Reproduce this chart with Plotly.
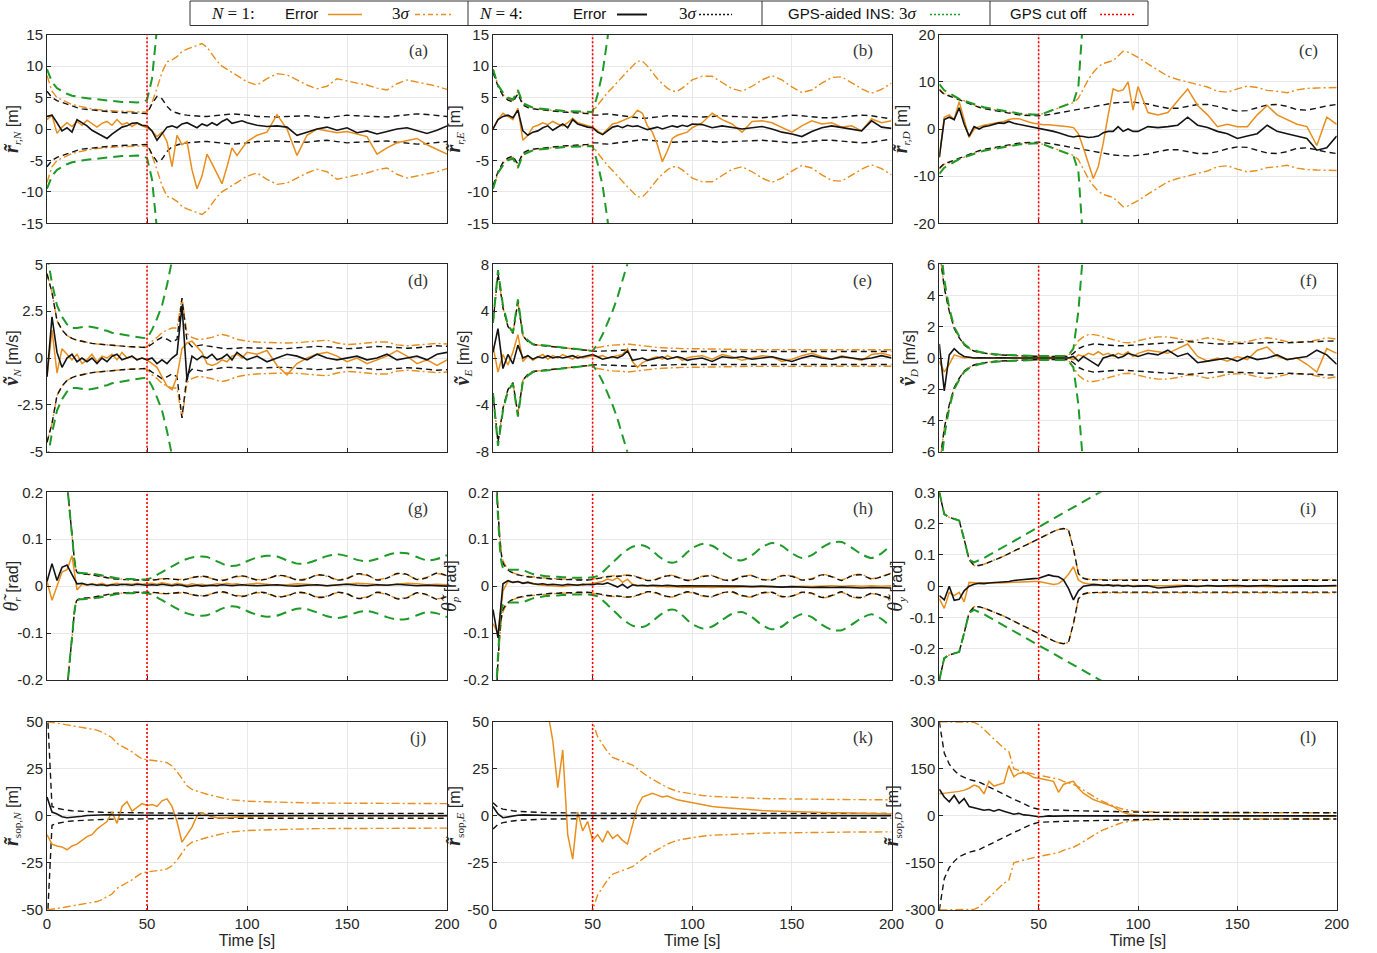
import plotly.graph_objects as go

# ---------------- time grid (s) ----------------
T = [0, 2.5, 5, 7.5, 10, 12.5, 15, 17.5, 20,
     22.5, 25, 27.5, 30, 32.5, 35, 37.5, 40,
     42.5, 45, 47.5, 50, 52.5, 55, 57.5, 60,
     62.5, 65, 67.5, 70, 72.5, 75, 77.5, 80,
     82.5, 85, 87.5, 90, 92.5, 95, 97.5, 100,
     105, 110, 115, 120, 125, 130, 135, 140, 145, 150,
     155, 160, 165, 170, 175, 180, 185, 190, 195, 200]
T_CUT = 50
X_TICKS = [0, 50, 100, 150, 200]

# ---------------- (a) r_N ----------------
A_ERR1 = [1.5, 2.2, -0.7, 0.3, 1.0, 0.4, 1.2, 0.6, 1.4,
          0.8, 0.3, 0.9, 1.2, 0.6, 1.5, 0.7, 1.0,
          0.4, 0.9, 0.5, 0.2, -0.3, -1.2, -0.5, -2.0,
          -6.0, -1.0, -2.5, -2.0, -6.5, -9.5, -7.5, -4.0,
          -5.5, -7.0, -8.7, -6.0, -3.0, -4.2, -3.0, -2.0,
          -1.0, -0.5, 2.3, 0.0, -4.2, -1.0, 0.0, -0.3, -0.6, -0.4,
          -0.8, -1.2, -4.0, -3.0, -2.2, -1.8, -1.5, -2.5, -3.2, -4.0]
A_ERR4 = [2.0, 2.2, 1.0, -0.3, 0.2, -0.5, 1.5, 1.0, 0.5,
          -0.2, -0.6, -1.0, -1.5, -0.8, -0.3, 0.3, 0.5,
          0.9, 1.0, 0.6, 0.5, -0.3, -1.8, -0.8, 0.3,
          0.5, 0.2, 0.8, 1.0, 0.6, 0.2, 0.8, 0.5,
          1.0, 0.6, 1.2, 1.6, 0.9, 1.1, 1.3, 1.0,
          0.6, 0.4, 0.5, 0.3, -1.0, -0.5, 0.0, 0.3, -0.2, 0.2,
          -0.6, -0.3, -0.8, -0.4, 0.0, 0.2, -0.3, -0.7, -0.2, 0.5]
A_SIG1 = [8.5, 6.0, 5.0, 4.6, 4.2, 3.9, 3.7, 3.5, 3.3,
          3.2, 3.1, 3.0, 2.95, 2.9, 2.85, 2.8, 2.75,
          2.75, 2.7, 2.7, 2.7, 4.2, 6.5, 9.0, 10.7,
          11.0, 11.5, 12.3, 12.7, 13.0, 13.3, 13.6, 13.0,
          11.8, 10.8, 10.0, 9.5, 9.0, 8.5, 8.0, 7.5,
          7.0, 8.0, 8.8, 8.6, 7.8, 7.0, 6.4, 6.8, 8.0, 7.6,
          7.3, 7.0, 6.5, 6.2, 7.2, 7.8, 7.5, 7.2, 6.8, 6.3]
A_SIG4 = [6.0, 5.0, 4.5, 4.2, 3.9, 3.6, 3.4, 3.2, 3.1,
          3.0, 2.9, 2.8, 2.75, 2.7, 2.65, 2.6, 2.55,
          2.5, 2.5, 2.45, 2.45, 4.0, 5.2, 4.8, 3.6,
          2.8, 2.5, 2.3, 2.2, 2.1, 2.0, 2.0, 2.0,
          2.1, 2.2, 2.3, 2.4, 2.4, 2.35, 2.3, 2.2,
          2.0, 1.9, 1.9, 2.0, 2.1, 2.1, 1.9, 1.8, 2.0, 2.2,
          2.1, 2.0, 1.9, 1.9, 2.1, 2.3, 2.4, 2.3, 2.1, 2.0]
A_GPS = [9.5, 7.5, 6.5, 6.0, 5.6, 5.3, 5.1, 5.0, 4.9,
         4.8, 4.8, 4.7, 4.6, 4.5, 4.4, 4.3, 4.3,
         4.2, 4.2, 4.3, 4.6, 8.0, 14.0, 22.0, 32.0] + [None] * 36

# ---------------- (b) r_E ----------------
B_ERR1 = [0.0, 1.5, 2.5, 2.0, 1.5, 3.3, -1.8, -1.0, 0.3,
          0.6, 1.0, 0.7, 1.2, 0.8, 0.5, 1.0, 1.7,
          1.0, 0.8, 0.5, 0.3, -0.3, -0.8, 0.0, 0.8,
          1.0, 1.3, 1.6, 2.0, 3.0, 2.5, 0.5, -0.5,
          -2.5, -5.2, -3.5, -1.5, -1.0, -0.7, -0.5, 0.2,
          1.0, 2.5, 1.5, 0.8, -0.5, 1.2, 1.3, 1.0, 0.3, -0.5,
          0.5, 1.3, 0.8, 1.0, 0.3, 0.5, -0.3, 1.6, 1.0, 1.3]
B_ERR4 = [0.0, 1.5, 2.0, 2.2, 1.8, 3.0, -0.3, -1.0, -0.5,
          -0.3, 0.2, 0.5, -0.2, 0.3, 0.8, 0.2, 1.5,
          0.8, 0.5, 0.3, 0.2, -0.5, -0.9, -0.3, 0.3,
          0.5, 0.2, 0.6, 0.4, 0.5, 0.2, -0.1, 0.1,
          0.3, 0.0, 0.2, 0.5, 0.3, 0.6, 0.4, 0.8,
          0.7, 0.2, 0.5, 0.3, 0.0, 0.2, 0.4, 0.0, -0.5, -0.8,
          -1.2, -0.4, 0.2, 0.5, 0.2, 0.0, -0.3, 1.3, 0.3, 0.1]
B_SIG1 = [9.5, 7.0, 5.5, 4.8, 4.5, 6.0, 4.0, 3.6, 3.3,
          3.2, 3.1, 3.0, 2.9, 2.85, 2.8, 2.75, 2.7,
          2.7, 2.65, 2.6, 2.6, 3.8, 4.8, 5.8, 6.6,
          7.5, 8.3, 9.2, 10.0, 10.8, 10.8, 10.0, 9.0,
          8.0, 7.2, 6.5, 6.0, 6.0, 6.5, 7.2, 7.8,
          8.4, 8.4, 7.4, 6.4, 6.0, 6.8, 7.8, 8.5, 7.8, 6.7,
          5.8, 6.2, 7.3, 8.2, 8.3, 7.4, 6.4, 5.7, 6.3, 7.3]
B_SIG4 = [9.0, 6.8, 5.3, 4.6, 4.3, 5.6, 3.8, 3.4, 3.2,
          3.1, 3.0, 2.9, 2.8, 2.75, 2.7, 2.65, 2.6,
          2.55, 2.5, 2.45, 2.2, 2.2, 2.35, 2.4, 2.3,
          2.2, 2.0, 1.9, 1.8, 1.75, 1.7, 1.75, 1.85,
          1.95, 2.05, 2.1, 2.1, 2.05, 2.0, 1.95, 1.9,
          1.9, 2.0, 2.1, 2.0, 1.9, 1.8, 1.8, 1.9, 2.1, 2.2,
          2.1, 1.9, 1.8, 1.8, 1.9, 2.0, 2.2, 2.1, 1.8, 1.6]
B_GPS = [9.5, 7.0, 5.8, 5.0, 4.7, 6.2, 4.1, 3.7, 3.4,
         3.3, 3.2, 3.1, 3.0, 2.95, 2.9, 2.85, 2.8,
         2.8, 2.75, 2.7, 2.7, 5.5, 9.0, 14.5, 22.0] + [None] * 36

# ---------------- (c) r_D ----------------
C_ERR1 = [-6.0, 2.5, 3.0, 2.0, 5.8, 2.0, -1.8, 0.0, 0.5,
          0.8, 1.0, 1.2, 1.3, 1.6, 2.0, 2.2, 2.2,
          1.8, 1.5, 1.2, 1.0, 0.9, 0.9, 0.8, 0.8,
          0.6, 0.5, 0.3, -1.0, -4.0, -7.5, -10.5, -8.0,
          -3.0, 3.0, 8.5, 8.0, 8.3, 10.0, 4.0, 9.0,
          3.5, 3.0, 3.5, 6.0, 8.5, 5.0, 3.0, 0.5, 1.0, 0.5,
          0.5, 3.0, 5.0, 3.0, 2.0, 1.0, 0.5, -3.5, 2.5, 1.0]
C_ERR4 = [-6.0, 2.0, 2.5, 2.0, 4.5, 1.0, -1.5, 0.5, 0.0,
          0.5, 0.7, 1.0, 1.3, 1.2, 1.6, 1.2, 1.0,
          0.8, 0.5, 0.3, 0.2, 0.0, -0.2, -0.5, -0.8,
          -1.2, -1.5, -1.7, -1.5, -1.6, -1.8, -1.7, -1.5,
          -0.8, -0.5, -0.5, 0.5, -0.5, 0.0, -0.5, -0.5,
          0.5, 0.3, 0.5, 0.8, 2.5, 0.8, 0.3, -0.5, -1.0, -2.0,
          -1.5, -1.0, 0.8, -0.5, -1.0, -1.5, -2.0, -4.5, -4.0, -1.5]
C_SIG1 = [8.5, 7.5, 7.2, 6.8, 6.3, 5.9, 5.5, 5.1, 4.8,
          4.5, 4.3, 4.1, 3.9, 3.7, 3.5, 3.35, 3.2,
          3.1, 3.05, 3.0, 3.0, 3.3, 3.7, 4.1, 4.5,
          4.9, 5.3, 5.6, 6.5, 8.5, 10.5, 12.0, 13.2,
          13.9, 14.2, 14.5, 15.5, 16.5, 16.3, 15.8, 15.2,
          13.8, 12.5, 11.2, 10.5, 10.0, 9.5, 8.9, 8.0, 7.8, 8.5,
          9.1, 8.8, 8.2, 8.0, 7.7, 8.3, 8.6, 8.7, 8.8, 8.8]
C_SIG4 = [8.3, 7.3, 7.0, 6.6, 6.1, 5.7, 5.3, 4.9, 4.6,
          4.3, 4.1, 3.9, 3.7, 3.5, 3.3, 3.15, 3.0,
          2.9, 2.85, 2.8, 2.8, 2.9, 3.0, 3.2, 3.4,
          3.6, 3.8, 4.0, 4.2, 4.4, 4.6, 4.8, 5.0,
          5.2, 5.4, 5.5, 5.6, 5.7, 5.7, 5.7, 5.6,
          5.3, 4.8, 4.4, 4.4, 4.8, 5.2, 5.2, 4.8, 4.2, 3.8,
          3.9, 4.5, 5.1, 5.2, 4.8, 4.1, 4.0, 4.4, 4.9, 5.2]
C_GPS = [9.5, 8.2, 7.6, 7.0, 6.4, 6.0, 5.6, 5.2, 4.9,
         4.6, 4.4, 4.2, 4.0, 3.8, 3.6, 3.4, 3.3,
         3.2, 3.1, 3.05, 3.0, 3.3, 3.7, 4.1, 4.5,
         4.9, 5.3, 5.7, 9.0, 22.0, 40.0] + [None] * 30

# ---------------- (d) v_N ----------------
D_ERR1 = [-1.0, 1.5, -0.8, 0.5, 0.2, -0.1, 0.2, -0.3, -0.1,
          0.2, -0.2, 0.1, 0.0, 0.2, -0.1, 0.3, 0.0,
          0.1, -0.1, 0.0, -0.1, -0.3, -0.5, -1.0, -1.5,
          -1.7, -1.0, 0.5, 0.8, 0.9, 0.6, 0.3, -0.3,
          -0.4, -0.3, -0.1, -0.2, 0.1, 0.2, 0.0, 0.3,
          0.2, 0.4, -0.4, -0.9, -0.3, 0.0, 0.2, 0.3, 0.1, -0.2,
          0.0, -0.3, -0.1, 0.1, 0.4, 0.1, -0.3, -0.1, -0.4, -0.1]
D_ERR4 = [-1.0, 2.2, 0.3, -0.5, 0.0, 0.2, -0.2, 0.0, -0.2,
          0.0, -0.3, 0.0, -0.2, 0.1, 0.2, -0.1, 0.0,
          0.1, -0.1, 0.0, -0.1, 0.0, -0.3, -0.1, -0.3,
          0.0, 0.2, 2.8, -1.2, 0.1, -0.1, 0.1, 0.0,
          0.2, -0.1, 0.0, 0.2, -0.1, 0.3, 0.1, -0.1,
          0.1, -0.2, 0.0, 0.2, 0.1, -0.1, 0.2, 0.0, -0.1, 0.0,
          0.1, -0.1, 0.0, 0.2, -0.1, 0.0, 0.1, -0.1, 0.2, 0.3]
D_SIG1 = [4.5, 3.5, 2.0, 1.5, 1.2, 1.05, 0.95, 0.88, 0.82,
          0.78, 0.75, 0.72, 0.7, 0.68, 0.65, 0.63, 0.61,
          0.6, 0.59, 0.58, 0.58, 0.9, 1.1, 1.35, 1.5,
          1.6, 1.6, 3.2, 1.3, 1.1, 1.0, 1.0, 1.05,
          1.1, 1.2, 1.25, 1.2, 1.1, 1.0, 0.95, 0.9,
          0.85, 0.82, 0.8, 0.8, 0.82, 0.85, 0.9, 0.95, 0.8, 0.72,
          0.75, 0.8, 0.85, 0.85, 0.7, 0.65, 0.7, 0.75, 0.78, 0.75]
D_SIG4 = [4.5, 3.5, 2.0, 1.5, 1.2, 1.05, 0.95, 0.88, 0.82,
          0.78, 0.75, 0.72, 0.7, 0.68, 0.65, 0.63, 0.61,
          0.6, 0.58, 0.57, 0.56, 0.75, 0.95, 1.1, 1.0,
          0.85, 1.0, 3.2, 0.9, 0.6, 0.65, 0.7, 0.65,
          0.6, 0.55, 0.52, 0.5, 0.5, 0.52, 0.55, 0.55,
          0.55, 0.52, 0.5, 0.5, 0.55, 0.6, 0.62, 0.6, 0.55, 0.5,
          0.52, 0.58, 0.62, 0.6, 0.55, 0.52, 0.55, 0.6, 0.65, 0.62]
D_GPS = [5.5, 4.0, 2.8, 2.2, 1.8, 1.6, 1.6, 1.65, 1.7,
         1.65, 1.6, 1.5, 1.45, 1.35, 1.3, 1.25, 1.2,
         1.15, 1.1, 1.08, 1.05, 1.5, 2.1, 2.8, 3.9,
         5.0, 6.5, 8.5] + [None] * 33

# ---------------- (e) v_E ----------------
E_ERR1 = [1.0, -1.2, 0.3, -0.6, 0.5, 2.0, -0.3, 0.2, -0.2,
          0.1, 0.3, -0.1, 0.2, 0.0, 0.3, 0.1, -0.1,
          0.2, 0.0, 0.1, 0.2, 0.1, 0.2, 0.0, 0.1,
          0.2, 0.3, 0.8, -0.3, -0.8, -0.4, -0.2, 0.0,
          0.1, -0.1, 0.2, 0.0, 0.1, -0.2, 0.0, 0.1,
          0.2, -0.1, 0.3, 0.1, -0.2, 0.0, 0.2, 0.1, -0.3, -0.1,
          0.2, 0.4, 0.1, -0.1, 0.2, 0.0, -0.2, 0.3, 0.4, 0.2]
E_ERR4 = [0.5, 2.5, -0.9, 0.3, -0.5, 1.1, 0.0, 0.2, -0.1,
          0.1, 0.0, 0.2, 0.0, 0.1, 0.0, 0.1, 0.2,
          0.0, 0.1, 0.2, 0.3, 0.1, -0.1, 0.0, 0.1,
          0.0, 0.2, 0.6, -0.2, -0.1, 0.0, -0.2, -0.1,
          0.0, 0.1, -0.1, 0.0, 0.1, 0.0, -0.2, -0.1,
          0.0, -0.3, 0.1, 0.0, 0.1, -0.1, 0.0, 0.1, -0.1, -0.3,
          0.0, 0.2, 0.0, -0.1, 0.1, 0.0, -0.1, 0.0, 0.2, 0.0]
E_SIG1 = [3.0, 7.2, 4.3, 2.7, 2.1, 4.8, 1.9, 1.4, 1.15,
          1.1, 1.05, 1.0, 0.95, 0.9, 0.85, 0.8, 0.75,
          0.72, 0.7, 0.67, 0.65, 0.9, 1.0, 1.05, 1.1,
          1.1, 1.15, 1.2, 1.15, 1.05, 1.0, 0.95, 0.9,
          0.9, 0.88, 0.85, 0.85, 0.82, 0.8, 0.8, 0.8,
          0.78, 0.76, 0.75, 0.74, 0.72, 0.72, 0.73, 0.75, 0.74, 0.72,
          0.7, 0.7, 0.72, 0.74, 0.72, 0.7, 0.7, 0.72, 0.72, 0.7]
E_SIG4 = [3.0, 7.2, 4.3, 2.7, 2.1, 4.8, 1.9, 1.4, 1.15,
          1.1, 1.05, 1.0, 0.95, 0.9, 0.85, 0.8, 0.75,
          0.7, 0.65, 0.62, 0.6, 0.58, 0.58, 0.6, 0.62,
          0.65, 0.68, 0.7, 0.7, 0.68, 0.66, 0.64, 0.62,
          0.6, 0.6, 0.58, 0.57, 0.56, 0.55, 0.55, 0.55,
          0.55, 0.56, 0.58, 0.6, 0.58, 0.56, 0.55, 0.55, 0.57, 0.6,
          0.58, 0.56, 0.55, 0.55, 0.56, 0.58, 0.6, 0.58, 0.56, 0.55]
E_GPS = [3.0, 7.5, 4.5, 2.8, 2.2, 5.0, 2.0, 1.5, 1.2,
         1.15, 1.1, 1.05, 1.0, 0.95, 0.9, 0.85, 0.8,
         0.75, 0.7, 0.65, 0.6, 1.2, 2.0, 3.0, 4.0,
         5.2, 6.5, 7.8, 9.5] + [None] * 32

# ---------------- (f) v_D ----------------
F_ERR1 = [-0.2, -0.9, -0.4, 0.2, 0.1, 0.0, 0.05, 0.0, 0.02,
          0.0, 0.02, 0.0, 0.01, 0.0, 0.01, 0.0, 0.01,
          0.0, 0.01, 0.0, 0.0, 0.01, 0.0, 0.01, 0.0,
          0.0, 0.0, -0.1, 0.2, 0.1, 0.3, 0.2, 0.4,
          0.2, 0.3, 0.1, 0.3, 0.2, 0.4, 0.1, 0.3,
          0.5, 0.4, 0.3, 0.6, 0.9, 0.1, -0.2, 0.0, -0.2, 0.1,
          -0.1, 0.5, 0.7, 0.1, -0.1, 0.0, -0.4, -0.9, 0.6, 0.3]
F_ERR4 = [0.9, -2.1, 0.2, 0.6, 0.3, 0.1, 0.05, 0.0, 0.02,
          0.0, 0.01, 0.0, 0.01, 0.0, 0.0, 0.01, 0.0,
          0.0, 0.0, 0.01, 0.0, 0.0, 0.0, 0.0, 0.0,
          0.0, 0.0, 0.1, -0.2, 0.1, -0.1, -0.3, -0.5,
          0.0, 0.1, 0.2, 0.0, 0.1, 0.3, 0.2, 0.1,
          0.3, 0.2, 0.5, 0.1, 0.3, -0.3, -0.2, -0.1, 0.0, -0.2,
          0.1, -0.1, 0.0, 0.2, -0.1, 0.0, 0.1, 0.5, 0.2, -0.4]
F_SIG1 = [7.0, 4.5, 3.0, 1.9, 1.3, 0.85, 0.6, 0.45, 0.36,
          0.3, 0.25, 0.22, 0.2, 0.18, 0.16, 0.15, 0.14,
          0.13, 0.12, 0.11, 0.1, 0.1, 0.1, 0.1, 0.1,
          0.1, 0.15, 0.6, 1.1, 1.35, 1.5, 1.5, 1.45,
          1.35, 1.25, 1.15, 1.05, 1.0, 0.98, 1.0, 1.1,
          1.25, 1.35, 1.35, 1.25, 1.1, 1.15, 1.3, 1.2, 1.05, 1.0,
          1.05, 1.2, 1.3, 1.2, 1.05, 1.0, 1.05, 1.15, 1.3, 1.2]
F_SIG4 = [7.0, 4.5, 3.0, 1.9, 1.3, 0.85, 0.6, 0.45, 0.36,
          0.3, 0.25, 0.22, 0.2, 0.18, 0.16, 0.15, 0.14,
          0.13, 0.12, 0.11, 0.1, 0.1, 0.1, 0.1, 0.1,
          0.1, 0.1, 0.3, 0.6, 0.75, 0.85, 0.9, 0.88,
          0.85, 0.82, 0.8, 0.78, 0.78, 0.8, 0.82, 0.85,
          0.9, 0.95, 0.98, 1.0, 1.05, 1.0, 0.95, 0.9, 0.9, 0.92,
          0.95, 1.0, 1.02, 1.0, 0.98, 1.0, 1.02, 1.05, 1.08, 1.1]
F_GPS = [8.0, 5.0, 3.2, 2.0, 1.4, 0.9, 0.65, 0.5, 0.4,
         0.33, 0.28, 0.25, 0.22, 0.2, 0.18, 0.17, 0.16,
         0.15, 0.14, 0.13, 0.13, 0.12, 0.12, 0.12, 0.12,
         0.13, 0.2, 0.6, 3.0, 6.5, 11.0] + [None] * 30

# ---------------- (g) theta_r ----------------
G_ERR1 = [0.01, -0.03, 0.0, 0.03, 0.035, 0.065, -0.008, 0.004, 0.002,
          0.005, 0.003, 0.006, 0.002, 0.004, 0.006, 0.003, 0.005,
          0.004, 0.006, 0.004, 0.005, 0.006, 0.004, 0.007, 0.005,
          0.003, 0.006, 0.004, 0.002, 0.005, 0.003, 0.004, 0.002,
          0.003, 0.005, 0.004, 0.006, 0.004, 0.005, 0.003, 0.004,
          0.006, 0.004, 0.002, 0.003, 0.005, 0.004, 0.002, 0.001, 0.003, 0.004,
          0.006, 0.005, 0.003, 0.002, 0.004, 0.006, 0.005, 0.003, 0.004, 0.003]
G_ERR4 = [0.01, 0.048, 0.012, 0.04, 0.045, 0.025, 0.005, 0.006, 0.003,
          0.004, 0.002, 0.003, 0.001, 0.003, 0.002, 0.004, 0.003,
          0.002, 0.004, 0.003, 0.002, 0.003, 0.002, 0.004, 0.002,
          0.001, 0.003, 0.002, -0.001, 0.001, 0.002, 0.0, 0.001,
          0.002, 0.001, 0.003, 0.002, 0.001, 0.002, 0.003, 0.002,
          0.001, 0.002, 0.003, 0.001, 0.0, 0.002, 0.003, 0.001, 0.002, 0.004,
          0.002, 0.001, 0.003, 0.002, 0.004, 0.003, 0.001, 0.002, 0.001, 0.0]
G_SIG1 = [0.5, 0.45, 0.4, 0.32, 0.22, 0.11, 0.03, 0.027, 0.026,
          0.025, 0.023, 0.021, 0.019, 0.017, 0.016, 0.015, 0.015,
          0.014, 0.014, 0.014, 0.014, 0.014, 0.015, 0.016, 0.016,
          0.015, 0.015, 0.014, 0.016, 0.018, 0.02, 0.02, 0.019,
          0.016, 0.014, 0.013, 0.015, 0.018, 0.02, 0.021, 0.019,
          0.014, 0.016, 0.022, 0.02, 0.014, 0.016, 0.023, 0.021, 0.014, 0.017,
          0.025, 0.023, 0.014, 0.018, 0.026, 0.024, 0.015, 0.019, 0.027, 0.021]
G_SIG4 = [0.5, 0.45, 0.4, 0.32, 0.22, 0.11, 0.03, 0.026, 0.025,
          0.024, 0.022, 0.02, 0.018, 0.016, 0.015, 0.014, 0.014,
          0.013, 0.013, 0.013, 0.013, 0.013, 0.014, 0.015, 0.016,
          0.015, 0.014, 0.013, 0.015, 0.018, 0.02, 0.021, 0.02,
          0.016, 0.013, 0.012, 0.014, 0.018, 0.021, 0.022, 0.02,
          0.013, 0.015, 0.023, 0.021, 0.013, 0.015, 0.024, 0.022, 0.013, 0.016,
          0.026, 0.024, 0.013, 0.017, 0.027, 0.025, 0.014, 0.018, 0.028, 0.022]
G_GPS = [0.5, 0.45, 0.4, 0.32, 0.22, 0.11, 0.03, 0.028, 0.027,
         0.026, 0.025, 0.023, 0.021, 0.019, 0.017, 0.016, 0.015,
         0.015, 0.014, 0.014, 0.015, 0.018, 0.024, 0.03, 0.036,
         0.042, 0.048, 0.054, 0.058, 0.061, 0.063, 0.063, 0.062,
         0.058, 0.053, 0.048, 0.044, 0.043, 0.044, 0.048, 0.053,
         0.061, 0.065, 0.063, 0.055, 0.048, 0.049, 0.056, 0.064, 0.068, 0.064,
         0.056, 0.053, 0.058, 0.066, 0.071, 0.07, 0.062, 0.055, 0.058, 0.066]

# ---------------- (h) theta_p ----------------
H_ERR1 = [-0.08, -0.1, -0.01, 0.01, 0.008, 0.01, 0.007, 0.009, 0.006,
          0.003, 0.002, 0.001, 0.0, 0.0, -0.001, 0.001, 0.002,
          0.003, 0.002, 0.004, 0.006, 0.008, 0.01, 0.015, 0.012,
          0.018, 0.008, 0.015, 0.004, 0.002, 0.001, 0.0, 0.001,
          -0.001, 0.0, -0.002, -0.001, -0.002, -0.003, -0.002, -0.003,
          -0.002, -0.003, -0.002, -0.003, -0.002, -0.001, -0.002, -0.001, -0.002, -0.001,
          0.0, -0.001, 0.0, 0.001, 0.0, 0.001, 0.0, 0.001, 0.0, 0.001]
H_ERR4 = [-0.05, -0.11, 0.005, 0.012, 0.008, 0.01, 0.006, 0.008, 0.005,
          0.004, 0.005, 0.003, 0.004, 0.003, 0.002, 0.004, 0.003,
          0.002, 0.004, 0.003, 0.003, 0.005, 0.004, 0.007, 0.003,
          -0.002, 0.004, -0.004, 0.003, 0.001, 0.002, 0.001, 0.002,
          0.001, 0.001, 0.002, 0.001, 0.0, 0.001, 0.001, 0.0,
          0.001, 0.0, 0.001, 0.0, 0.0, -0.001, 0.0, -0.001, -0.002, -0.001,
          -0.002, -0.003, -0.002, -0.003, -0.002, -0.003, -0.004, -0.003, -0.004, -0.004]
H_SIG1 = [0.5, 0.17, 0.055, 0.037, 0.029, 0.025, 0.023, 0.021, 0.02,
          0.019, 0.018, 0.017, 0.016, 0.016, 0.015, 0.015, 0.015,
          0.014, 0.014, 0.014, 0.015, 0.017, 0.019, 0.021, 0.022,
          0.022, 0.023, 0.024, 0.023, 0.02, 0.016, 0.013, 0.013,
          0.016, 0.02, 0.023, 0.023, 0.02, 0.016, 0.013, 0.014,
          0.021, 0.023, 0.015, 0.013, 0.021, 0.023, 0.015, 0.014, 0.023, 0.022,
          0.014, 0.016, 0.025, 0.021, 0.013, 0.023, 0.025, 0.016, 0.021, 0.028]
H_SIG4 = [0.5, 0.16, 0.05, 0.035, 0.028, 0.024, 0.022, 0.02, 0.019,
          0.018, 0.017, 0.016, 0.015, 0.015, 0.014, 0.014, 0.014,
          0.013, 0.013, 0.013, 0.014, 0.016, 0.018, 0.02, 0.021,
          0.021, 0.022, 0.023, 0.022, 0.019, 0.015, 0.012, 0.012,
          0.015, 0.019, 0.022, 0.022, 0.019, 0.015, 0.012, 0.013,
          0.02, 0.022, 0.014, 0.012, 0.02, 0.022, 0.014, 0.013, 0.022, 0.021,
          0.013, 0.015, 0.024, 0.02, 0.012, 0.022, 0.024, 0.015, 0.02, 0.027]
H_GPS = [0.4, 0.15, 0.04, 0.035, 0.035, 0.035, 0.034, 0.03, 0.026,
         0.024, 0.022, 0.021, 0.02, 0.02, 0.019, 0.019, 0.018,
         0.018, 0.018, 0.018, 0.019, 0.022, 0.03, 0.04, 0.05,
         0.06, 0.07, 0.078, 0.084, 0.087, 0.087, 0.083, 0.075,
         0.066, 0.058, 0.052, 0.05, 0.053, 0.062, 0.072, 0.081,
         0.09, 0.086, 0.072, 0.059, 0.055, 0.066, 0.083, 0.092, 0.086, 0.07,
         0.06, 0.066, 0.082, 0.093, 0.094, 0.082, 0.068, 0.06, 0.07, 0.088]

# ---------------- (i) theta_y ----------------
I_ERR1 = [-0.04, -0.071, -0.02, -0.03, -0.02, -0.05, 0.012, 0.01, 0.01,
          0.011, 0.01, 0.012, 0.01, 0.011, 0.012, 0.011, 0.012,
          0.013, 0.014, 0.015, 0.015, 0.012, 0.01, 0.005, 0.008,
          0.02, 0.038, 0.062, 0.02, 0.01, 0.008, 0.006, 0.005,
          0.004, 0.003, 0.004, 0.002, 0.003, 0.002, 0.001, 0.002,
          0.001, 0.0, 0.001, 0.003, 0.002, 0.001, 0.0, -0.001, 0.0, -0.002,
          -0.001, 0.0, -0.002, -0.001, 0.0, -0.001, 0.0, 0.001, 0.0, 0.0]
I_ERR4 = [-0.03, -0.044, 0.0, -0.045, -0.042, -0.015, 0.0, 0.006, 0.009,
          0.008, 0.01, 0.011, 0.012, 0.013, 0.015, 0.018, 0.02,
          0.021, 0.022, 0.024, 0.025, 0.03, 0.036, 0.032, 0.03,
          0.02, -0.007, -0.044, -0.015, 0.0, 0.003, 0.005, 0.004,
          0.002, 0.004, 0.001, 0.003, 0.0, 0.002, -0.001, 0.0,
          0.001, -0.006, -0.003, 0.0, 0.001, -0.001, 0.002, 0.0, 0.001, 0.002,
          0.0, 0.001, 0.002, 0.0, 0.001, 0.002, 0.001, 0.0, 0.002, 0.002]
I_SIG1 = [0.3, 0.23, 0.22, 0.215, 0.21, 0.15, 0.085, 0.066, 0.066,
          0.07, 0.076, 0.082, 0.089, 0.096, 0.104, 0.112, 0.12,
          0.128, 0.136, 0.144, 0.152, 0.16, 0.168, 0.175, 0.181,
          0.184, 0.18, 0.12, 0.04, 0.026, 0.022, 0.021, 0.021,
          0.021, 0.021, 0.021, 0.021, 0.021, 0.021, 0.021, 0.021,
          0.021, 0.021, 0.021, 0.021, 0.021, 0.021, 0.021, 0.021, 0.021, 0.021,
          0.021, 0.021, 0.021, 0.021, 0.021, 0.021, 0.021, 0.021, 0.021, 0.021]
I_SIG4 = [0.3, 0.23, 0.22, 0.215, 0.21, 0.15, 0.085, 0.066, 0.066,
          0.07, 0.076, 0.082, 0.089, 0.096, 0.104, 0.112, 0.12,
          0.128, 0.136, 0.144, 0.152, 0.16, 0.168, 0.175, 0.181,
          0.184, 0.18, 0.12, 0.04, 0.025, 0.021, 0.02, 0.019,
          0.019, 0.019, 0.019, 0.019, 0.019, 0.019, 0.019, 0.019,
          0.019, 0.019, 0.019, 0.019, 0.019, 0.019, 0.019, 0.019, 0.019, 0.019,
          0.019, 0.019, 0.019, 0.019, 0.019, 0.019, 0.019, 0.019, 0.019, 0.019]
I_GPS = [0.3, 0.23, 0.22, 0.215, 0.21, 0.15, 0.085, 0.076, 0.082,
         0.09, 0.099, 0.108, 0.117, 0.126, 0.135, 0.144, 0.153,
         0.162, 0.171, 0.18, 0.189, 0.198, 0.207, 0.216, 0.225,
         0.234, 0.243, 0.252, 0.261, 0.27, 0.279, 0.288, 0.297,
         0.306, 0.315] + [None] * 26

# ---------------- (j) r_sop,N ----------------
J_ERR1 = [-10, -15, -16, -16.5, -18, -16, -15, -13, -11,
          -10, -7, -5, -3, 2, -4, 5, 7.5,
          2.5, 4.5, 6.5, 5.5, 6, 5, 8, 9,
          5, -3, -14, -10, -6, 0, 1.5, 0.5,
          -0.5, -1, -1.2, -1, -0.8, -0.5, -0.5, -0.3,
          -0.2, -0.1, -0.2, 0, -0.1, 0, 0.1, 0, -0.1, 0,
          0.1, 0, -0.1, 0, 0, 0.1, 0, -0.1, 0, 0]
J_ERR4 = [10, 2.0, 1.0, -0.5, -1.0, -0.8, -0.5, -0.2, 0.2,
          0.4, 0.5, 0.6, 0.6, 0.5, 0.4, 0.3, 0.3,
          0.3, 0.3, 0.3, 0.3, 0.2, 0.2, 0.2, 0.2,
          0.2, 0.2, 0.2, 0.2, 0.2, 0.2, 0.2, 0.2,
          0.1, 0.1, 0.1, 0.1, 0.1, 0.1, 0.1, 0.1,
          0.1, 0.1, 0.1, 0.1, 0.1, 0.1, 0.1, 0.1, 0.1, 0.1,
          0.1, 0.1, 0.1, 0.1, 0.1, 0.1, 0.1, 0.1, 0.1, 0.1]
J_SIG1 = [50, 49.7, 49.3, 48.8, 48.3, 47.9, 47.5, 47.0, 46.5,
          46.0, 45.5, 44.5, 43.0, 41.5, 38.5, 37.0, 35.5,
          34.0, 32.0, 30.3, 29.8, 29.5, 29.2, 28.8, 28.2,
          26.5, 23.5, 19.5, 16.0, 14.0, 13.0, 12.3, 11.5,
          10.8, 10.0, 9.4, 8.9, 8.5, 8.2, 8.0, 7.8,
          7.6, 7.4, 7.2, 7.1, 7.0, 6.9, 6.8, 6.8, 6.7, 6.7,
          6.6, 6.6, 6.6, 6.5, 6.5, 6.5, 6.5, 6.5, 6.5, 6.5]
J_SIG4 = [60, 5.0, 4.0, 3.4, 3.0, 2.7, 2.5, 2.3, 2.2,
          2.1, 2.0, 1.9, 1.8, 1.75, 1.7, 1.65, 1.6,
          1.55, 1.5, 1.5, 1.5, 1.45, 1.45, 1.4, 1.4,
          1.4, 1.4, 1.35, 1.35, 1.35, 1.35, 1.3, 1.3,
          1.3, 1.3, 1.3, 1.3, 1.3, 1.3, 1.3, 1.3,
          1.3, 1.3, 1.3, 1.3, 1.3, 1.3, 1.3, 1.3, 1.3, 1.3,
          1.3, 1.3, 1.3, 1.3, 1.3, 1.3, 1.3, 1.3, 1.3, 1.3]

# ---------------- (k) r_sop,E ----------------
K_ERR1 = [70, 70, 70, 70, 70, 70, 70, 70, 70,
          70, 70, 55, 40, 15, 35, -10, -23,
          2, -8, -3, -13, -10, -14, -8, -12,
          -10, -13, -15, -5, 5, 10, 11, 12,
          11, 10, 10.5, 9.5, 8.5, 8, 7.5, 7,
          6, 5, 4.5, 4, 3.5, 3, 2.8, 2.6, 2.4, 2.2,
          2.0, 1.9, 1.8, 1.7, 1.6, 1.5, 1.4, 1.3, 1.2, 1.0]
K_ERR4 = [5.0, 1.0, -1.0, -0.5, 0.0, 0.3, 0.5, 0.4, 0.3,
          0.3, 0.3, 0.2, 0.2, 0.2, 0.2, 0.2, 0.2,
          0.2, 0.2, 0.2, 0.2, 0.2, 0.2, 0.2, 0.2,
          0.2, 0.2, 0.2, 0.2, 0.2, 0.2, 0.2, 0.2,
          0.1, 0.1, 0.1, 0.1, 0.1, 0.1, 0.1, 0.1,
          0.1, 0.1, 0.1, 0.1, 0.1, 0.1, 0.1, 0.1, 0.1, 0.1,
          0.1, 0.1, 0.1, 0.1, 0.1, 0.1, 0.1, 0.1, 0.1, 0.1]
K_SIG1 = [80, 80, 80, 80, 80, 80, 80, 80, 80,
          80, 80, 80, 80, 80, 80, 80, 80,
          80, 80, 80, 50, 42, 38, 34, 31,
          30, 29, 28, 27, 25, 23, 21, 19.5,
          18, 16.5, 15, 14, 13, 12.5, 12, 11.5,
          10.8, 10.3, 10, 9.7, 9.5, 9.3, 9.2, 9.1, 9.0, 8.9,
          8.8, 8.8, 8.7, 8.7, 8.6, 8.6, 8.6, 8.5, 8.5, 8.5]
K_SIG4 = [7.0, 4.5, 3.6, 3.0, 2.7, 2.4, 2.2, 2.0, 1.9,
          1.8, 1.75, 1.7, 1.65, 1.6, 1.55, 1.5, 1.5,
          1.45, 1.45, 1.4, 1.4, 1.4, 1.4, 1.35, 1.35,
          1.35, 1.35, 1.3, 1.3, 1.3, 1.3, 1.3, 1.3,
          1.3, 1.3, 1.3, 1.3, 1.3, 1.3, 1.3, 1.3,
          1.3, 1.3, 1.3, 1.3, 1.3, 1.3, 1.3, 1.3, 1.3, 1.3,
          1.3, 1.3, 1.3, 1.3, 1.3, 1.3, 1.3, 1.3, 1.3, 1.3]

# ---------------- (l) r_sop,D ----------------
L_ERR1 = [70, 72, 72, 74, 78, 82, 88, 98, 92,
          70, 110, 95, 100, 105, 160, 125, 135,
          138, 132, 122, 120, 116, 114, 110, 75,
          100, 106, 110, 88, 72, 62, 52, 46,
          40, 35, 30, 20, 11, 6, 3, 2,
          1, 0, 0, 0, 0, 0, 0, 0, 0, 0,
          0, 0, 0, 0, 0, 0, 0, 0, 0, 0]
L_ERR4 = [85, 60, 45, 65, 40, 55, 30, 25, 22,
          18, 20, 15, 20, 15, 10, 5, 8,
          3, 2, 0, -3, -2, 0, -1, 0,
          0, 0, 0, 0, 0, 0, 0, 0,
          0, 0, 0, 0, 0, 0, 0, 0,
          0, 0, 0, 0, 0, 0, 0, 0, 0, 0,
          0, 0, 0, 0, 0, 0, 0, 0, 0, 0]
L_SIG1 = [300, 300, 300, 300, 300, 300, 300, 298, 290,
          275, 260, 245, 230, 215, 205, 150, 145,
          140, 137, 133, 130, 127, 124, 120, 117,
          110, 105, 100, 92, 82, 72, 62, 53,
          45, 38, 32, 26, 21, 18, 16, 15,
          13, 12, 11.5, 11, 10.5, 10.3, 10.1, 10, 10, 10,
          10, 10, 10, 10, 10, 10, 10, 10, 10, 10]
L_SIG4 = [300, 200, 165, 145, 130, 122, 116, 112, 108,
          100, 92, 83, 75, 67, 60, 53, 46,
          38, 31, 25, 21, 20, 19, 18.5, 18,
          17.5, 17, 16.5, 16, 15.5, 15, 14.5, 14,
          13.5, 13, 12.7, 12.4, 12.2, 12, 11.8, 11.5,
          11.2, 11, 10.8, 10.6, 10.4, 10.2, 10, 10, 10, 10,
          10, 10, 10, 10, 10, 10, 10, 10, 10, 10]

# ---------------- panel definitions ----------------
SERIF = "Liberation Serif"
SANS = "Liberation Sans"


def sym(core, sub):
    return ('<span style="font-family:%s">%s<sub>%s</sub></span>' % (SERIF, core, sub))


R = '<span style="font-size:20px"><b><i>r\u0303</i></b></span>'
V = '<span style="font-size:20px"><b><i>v\u0303</i></b></span>'
TH = '<span style="font-size:20px"><i>\u03b8\u0303</i></span>'

PANELS = [
    dict(lab='(a)', title=sym(R, '<i>r,N</i>') + ' [m]', yr=[-15, 15],
         yt=[-15, -10, -5, 0, 5, 10, 15], ytt=['-15', '-10', '-5', '0', '5', '10', '15'],
         e1=A_ERR1, e4=A_ERR4, s1=A_SIG1, s4=A_SIG4, g=A_GPS, shape='linear'),
    dict(lab='(b)', title=sym(R, '<i>r,E</i>') + ' [m]', yr=[-15, 15],
         yt=[-15, -10, -5, 0, 5, 10, 15], ytt=['-15', '-10', '-5', '0', '5', '10', '15'],
         e1=B_ERR1, e4=B_ERR4, s1=B_SIG1, s4=B_SIG4, g=B_GPS, shape='linear'),
    dict(lab='(c)', title=sym(R, '<i>r,D</i>') + ' [m]', yr=[-20, 20],
         yt=[-20, -10, 0, 10, 20], ytt=['-20', '-10', '0', '10', '20'],
         e1=C_ERR1, e4=C_ERR4, s1=C_SIG1, s4=C_SIG4, g=C_GPS, shape='linear'),
    dict(lab='(d)', title=sym(V, '<i>N</i>') + ' [m/s]', yr=[-5, 5],
         yt=[-5, -2.5, 0, 2.5, 5], ytt=['-5', '-2.5', '0', '2.5', '5'],
         e1=D_ERR1, e4=D_ERR4, s1=D_SIG1, s4=D_SIG4, g=D_GPS, shape='linear'),
    dict(lab='(e)', title=sym(V, '<i>E</i>') + ' [m/s]', yr=[-8, 8],
         yt=[-8, -4, 0, 4, 8], ytt=['-8', '-4', '0', '4', '8'],
         e1=E_ERR1, e4=E_ERR4, s1=E_SIG1, s4=E_SIG4, g=E_GPS, shape='linear'),
    dict(lab='(f)', title=sym(V, '<i>D</i>') + ' [m/s]', yr=[-6, 6],
         yt=[-6, -4, -2, 0, 2, 4, 6], ytt=['-6', '-4', '-2', '0', '2', '4', '6'],
         e1=F_ERR1, e4=F_ERR4, s1=F_SIG1, s4=F_SIG4, g=F_GPS, shape='linear'),
    dict(lab='(g)', title=sym(TH, '<i>r</i>') + ' [rad]', yr=[-0.2, 0.2],
         yt=[-0.2, -0.1, 0, 0.1, 0.2], ytt=['-0.2', '-0.1', '0', '0.1', '0.2'],
         e1=G_ERR1, e4=G_ERR4, s1=G_SIG1, s4=G_SIG4, g=G_GPS, shape='spline'),
    dict(lab='(h)', title=sym(TH, '<i>p</i>') + ' [rad]', yr=[-0.2, 0.2],
         yt=[-0.2, -0.1, 0, 0.1, 0.2], ytt=['-0.2', '-0.1', '0', '0.1', '0.2'],
         e1=H_ERR1, e4=H_ERR4, s1=H_SIG1, s4=H_SIG4, g=H_GPS, shape='spline'),
    dict(lab='(i)', title=sym(TH, '<i>y</i>') + ' [rad]', yr=[-0.3, 0.3],
         yt=[-0.3, -0.2, -0.1, 0, 0.1, 0.2, 0.3],
         ytt=['-0.3', '-0.2', '-0.1', '0', '0.1', '0.2', '0.3'],
         e1=I_ERR1, e4=I_ERR4, s1=I_SIG1, s4=I_SIG4, g=I_GPS, shape='linear'),
    dict(lab='(j)', title=sym(R, 'sop,<i>N</i>') + ' [m]', yr=[-50, 50],
         yt=[-50, -25, 0, 25, 50], ytt=['-50', '-25', '0', '25', '50'],
         e1=J_ERR1, e4=J_ERR4, s1=J_SIG1, s4=J_SIG4, g=None, shape='linear'),
    dict(lab='(k)', title=sym(R, 'sop,<i>E</i>') + ' [m]', yr=[-50, 50],
         yt=[-50, -25, 0, 25, 50], ytt=['-50', '-25', '0', '25', '50'],
         e1=K_ERR1, e4=K_ERR4, s1=K_SIG1, s4=K_SIG4, g=None, shape='linear'),
    dict(lab='(l)', title=sym(R, 'sop,<i>D</i>') + ' [m]', yr=[-300, 300],
         yt=[-300, -150, 0, 150, 300], ytt=['-300', '-150', '0', '150', '300'],
         e1=L_ERR1, e4=L_ERR4, s1=L_SIG1, s4=L_SIG4, g=None, shape='linear'),
]

bad = []
for p in PANELS:
    for key in ('e1', 'e4', 's1', 's4', 'g'):
        if p[key] is not None and len(p[key]) != len(T):
            bad.append('%s %s %d' % (p['lab'], key, len(p[key])))
if bad:
    raise ValueError('length mismatch: ' + '; '.join(bad))

# ---------------- styling ----------------
W, H = 1377, 953
ORANGE = '#E88E1C'
BLACK = '#141414'
GREEN = '#1E9A28'
RED = '#FF0000'
FRAME = '#262626'

COLS = [(47, 447), (493, 891.5), (939.3, 1336.7)]
ROWS = [(34.7, 223.3), (264.3, 451.7), (492.3, 680), (721.7, 910)]


def neg(arr):
    return [None if v is None else -v for v in arr]


fig = go.Figure()
layout = dict(width=W, height=H, margin=dict(l=0, r=0, t=0, b=0, pad=0), autosize=False,
              paper_bgcolor='white', plot_bgcolor='white', showlegend=False,
              font=dict(family=SANS, size=15, color=FRAME))
shapes = []
annotations = []

for k, p in enumerate(PANELS):
    r, c = divmod(k, 3)
    sfx = '' if k == 0 else str(k + 1)
    xa, ya = 'x' + sfx, 'y' + sfx
    x0, x1 = COLS[c]
    y0, y1 = ROWS[r]
    xdict = dict(
        domain=[x0 / W, x1 / W], anchor=ya, range=[0, 200], automargin=False,
        tickvals=X_TICKS, showticklabels=(r == 3),
        tickfont=dict(family=SANS, size=15, color=FRAME),
        showgrid=True, gridcolor='#e8e8e8', gridwidth=1, zeroline=False,
        showline=True, mirror=True, linecolor=FRAME, linewidth=1,
        ticks='inside', ticklen=4, tickcolor=FRAME)
    if r == 3:
        xdict['title'] = dict(text='Time [s]', font=dict(family=SANS, size=16, color=FRAME),
                              standoff=0)
    layout['xaxis' + sfx] = xdict
    layout['yaxis' + sfx] = dict(
        domain=[1 - y1 / H, 1 - y0 / H], anchor=xa, range=p['yr'], automargin=False,
        tickvals=p['yt'], ticktext=p['ytt'],
        tickfont=dict(family=SANS, size=15, color=FRAME),
        showgrid=True, gridcolor='#e8e8e8', gridwidth=1, zeroline=False,
        showline=True, mirror=True, linecolor=FRAME, linewidth=1,
        ticks='inside', ticklen=4, tickcolor=FRAME,
        title=dict(text=p['title'], font=dict(family=SANS, size=16, color=FRAME), standoff=2))

    sline = dict(shape=p['shape'], smoothing=0.7) if p['shape'] == 'spline' else dict(shape='linear')

    def add(y, color, width, dash, line_shape=None):
        ln = dict(color=color, width=width, dash=dash)
        if line_shape:
            ln.update(line_shape)
        fig.add_trace(go.Scatter(x=T, y=y, mode='lines', line=ln, xaxis=xa, yaxis=ya,
                                 hoverinfo='skip', showlegend=False, connectgaps=False))

    add(p['s1'], ORANGE, 1.4, '8px,3px,2px,3px', sline)
    add(neg(p['s1']), ORANGE, 1.4, '8px,3px,2px,3px', sline)
    add(p['s4'], BLACK, 1.4, '6px,4px', sline)
    add(neg(p['s4']), BLACK, 1.4, '6px,4px', sline)
    if p['g'] is not None:
        add(p['g'], GREEN, 2.0, '10px,6px', sline)
        add(neg(p['g']), GREEN, 2.0, '10px,6px', sline)
    add(p['e1'], ORANGE, 1.5, 'solid')
    add(p['e4'], BLACK, 1.6, 'solid')

    shapes.append(dict(type='line', xref=xa, yref=ya + ' domain', x0=T_CUT, x1=T_CUT, y0=0, y1=1,
                       line=dict(color=RED, width=1.6, dash='2px,2px'), layer='above'))
    annotations.append(dict(text=p['lab'], xref=xa + ' domain', yref=ya + ' domain',
                            x=0.928, y=0.915, xanchor='center', yanchor='middle', showarrow=False,
                            font=dict(family=SERIF, size=17, color='#333333')))

# ---------------- legend (top box) ----------------
def px(xp):
    return xp / W


def py(yp):
    return 1 - yp / H


LEG_Y = 13.5
shapes.append(dict(type='rect', xref='paper', yref='paper', x0=px(190), x1=px(1148),
                   y0=py(25.5), y1=py(1), line=dict(color='#333333', width=1), fillcolor='white',
                   layer='above'))
for xd in (468, 762, 990):
    shapes.append(dict(type='line', xref='paper', yref='paper', x0=px(xd), x1=px(xd),
                       y0=py(25.5), y1=py(1), line=dict(color='#333333', width=1), layer='above'))

LEG_LINES = [(328, 362, ORANGE, 'solid', 1.6), (415, 452, ORANGE, '5px,3px,2px,3px', 1.4),
             (617, 647, BLACK, 'solid', 2.0), (699, 732, BLACK, '2px,2px', 1.4),
             (930, 962, GREEN, '2px,2px', 1.6), (1100, 1135, RED, '2px,2px', 1.4)]
for xa0, xa1, col, dsh, wd in LEG_LINES:
    shapes.append(dict(type='line', xref='paper', yref='paper', x0=px(xa0), x1=px(xa1),
                       y0=py(LEG_Y + 1), y1=py(LEG_Y + 1), line=dict(color=col, width=wd, dash=dsh),
                       layer='above'))

SER17 = '<span style="font-family:%s;font-size:17px">%s</span>'
LEG_TEXT = [(209, SER17 % (SERIF, '<i>N</i> = 1:')),
            (283, 'Error'),
            (390, SER17 % (SERIF, '3<i>\u03c3</i>')),
            (477, SER17 % (SERIF, '<i>N</i> = 4:')),
            (571, 'Error'),
            (677, SER17 % (SERIF, '3<i>\u03c3</i>')),
            (786, 'GPS-aided INS: ' + SER17 % (SERIF, '3<i>\u03c3</i>')),
            (1008, 'GPS cut off')]
for xt, txt in LEG_TEXT:
    annotations.append(dict(text=txt, xref='paper', yref='paper', x=px(xt), y=py(LEG_Y),
                            xanchor='left', yanchor='middle', showarrow=False,
                            font=dict(family=SANS, size=15, color='#111111')))

layout['shapes'] = shapes
layout['annotations'] = annotations
fig.update_layout(**layout)
fig.write_html("out.html")
